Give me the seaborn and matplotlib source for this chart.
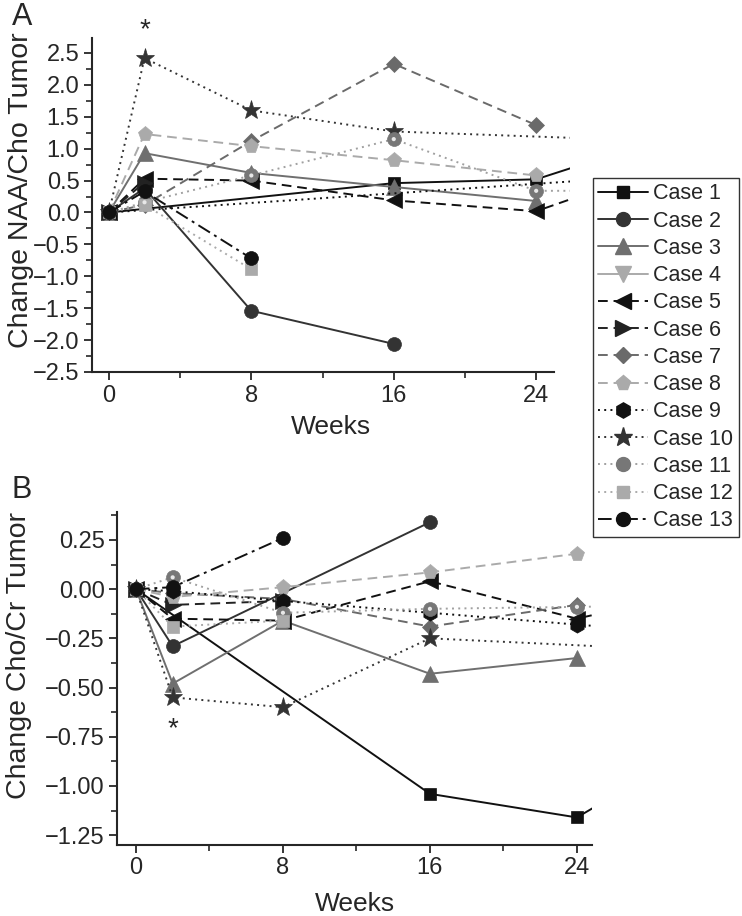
import numpy as np
import seaborn as sns
import matplotlib.pyplot as plt
from matplotlib.lines import Line2D
from matplotlib.ticker import MultipleLocator

sns.set_style('ticks')
plt.rcParams['font.family'] = ['Liberation Sans', 'DejaVu Sans']

nan = np.nan
weeks = [0, 2, 8, 16, 24, 32]

# panel A: change NAA/Cho tumor (week 32 values only show as lines running off the edge)
naa_cho = {
    'Case 1': [0, nan, nan, 0.46, 0.52, 1.24],
    'Case 2': [0, 0.38, -1.54, -2.06, nan, nan],
    'Case 3': [0, 0.93, 0.62, 0.40, 0.18, nan],
    'Case 4': [nan, nan, nan, nan, nan, nan],
    'Case 5': [0, 0.53, 0.50, 0.19, 0.02, 0.8],
    'Case 6': [0, 0.47, nan, nan, nan, nan],
    'Case 7': [0, 0.12, 1.12, 2.33, 1.37, nan],
    'Case 8': [0, 1.23, 1.04, 0.82, 0.58, nan],
    'Case 9': [0, nan, nan, nan, nan, 0.6],
    'Case 10': [0, 2.42, 1.60, 1.27, nan, 1.11],
    'Case 11': [0, 0.16, 0.58, 1.15, 0.34, 0.34],
    'Case 12': [0, 0.12, -0.89, nan, nan, nan],
    'Case 13': [0, 0.33, -0.72, nan, nan, nan],
}

# panel B: change Cho/Cr tumor
cho_cr = {
    'Case 1': [0, nan, nan, -1.04, -1.16, -0.72],
    'Case 2': [0, -0.29, nan, 0.34, nan, nan],
    'Case 3': [0, -0.48, -0.16, -0.43, -0.35, nan],
    'Case 4': [nan, nan, nan, nan, nan, nan],
    'Case 5': [0, -0.15, -0.16, 0.04, -0.15, 0.02],
    'Case 6': [0, -0.08, -0.06, nan, nan, nan],
    'Case 7': [0, -0.02, -0.05, -0.19, -0.08, nan],
    'Case 8': [0, -0.04, 0.01, 0.085, 0.18, nan],
    'Case 9': [0, -0.01, -0.06, -0.12, -0.18, -0.24],
    'Case 10': [0, -0.55, -0.60, -0.25, nan, -0.32],
    'Case 11': [0, 0.06, -0.12, -0.10, -0.09, -0.08],
    'Case 12': [0, -0.19, -0.16, nan, nan, nan],
    'Case 13': [0, 0.01, 0.26, nan, nan, nan],
}

dot = (0, (1, 2.2))
dash = (0, (5, 3))
dashdot = (0, (7, 2.5, 1.5, 2.5))
styles = {
    'Case 1': dict(color='#111111', marker='s', ms=9, ls='-'),
    'Case 2': dict(color='#333333', marker='o', ms=10, ls='-'),
    'Case 3': dict(color='#6f6f6f', marker='^', ms=11, ls='-'),
    'Case 4': dict(color='#aaaaaa', marker='v', ms=11, ls='-'),
    'Case 5': dict(color='#111111', marker='<', ms=11, ls=dash),
    'Case 6': dict(color='#222222', marker='>', ms=11, ls=dash),
    'Case 7': dict(color='#6a6a6a', marker='D', ms=8, ls=dash),
    'Case 8': dict(color='#aaaaaa', marker='p', ms=11, ls=dash),
    'Case 9': dict(color='#111111', marker='h', ms=11, ls=dot),
    'Case 10': dict(color='#333333', marker='*', ms=14, ls=dot),
    'Case 11': dict(color='#777777', marker='o', ms=10, ls=dot, line='#a0a0a0'),
    'Case 12': dict(color='#aaaaaa', marker='s', ms=9, ls=dot),
    'Case 13': dict(color='#111111', marker='o', ms=10, ls=dashdot),
}

fig = plt.figure(figsize=(7.42, 9.16), dpi=100)
axA = fig.add_axes([92 / 742, 1 - 372 / 916, (570 - 92) / 742, (372 - 38) / 916])
axB = fig.add_axes([117 / 742, 1 - 845 / 916, (592 - 117) / 742, (845 - 512) / 916])


def draw(ax, table):
    for name, vals in table.items():
        st = styles[name]
        if np.all(np.isnan(vals)):
            continue
        sns.lineplot(x=weeks, y=vals, ax=ax, color=st.get('line', st['color']),
                     linestyle=st['ls'], linewidth=1.4, marker=st['marker'],
                     markersize=st['ms'], markerfacecolor=st['color'],
                     markeredgecolor=st['color'], markeredgewidth=0.5)
        if name == 'Case 11':
            sns.scatterplot(x=weeks[1:], y=vals[1:], ax=ax, marker='o', s=9,
                            color='#e8e8e8', edgecolor='none', zorder=5)


draw(axA, naa_cho)
draw(axB, cho_cr)

for ax in (axA, axB):
    sns.despine(ax=ax)
    ax.spines['left'].set_linewidth(1.5)
    ax.spines['bottom'].set_linewidth(1.5)
    ax.set_xticks([0, 8, 16, 24])
    ax.xaxis.set_minor_locator(MultipleLocator(4))
    ax.tick_params(which='major', direction='out', length=6, width=1.3, labelsize=17, pad=3)
    ax.tick_params(which='minor', direction='out', length=4, width=1.2)

axA.set_xlim(-0.95, 25.9)
axA.spines['bottom'].set_bounds(-0.95, 25.0)
axA.set_ylim(-2.5, 2.735)
axA.set_yticks(np.arange(-2.5, 2.51, 0.5))
axA.yaxis.set_minor_locator(MultipleLocator(0.25))
axA.set_xlabel('Weeks', fontsize=19, labelpad=6)
axA.set_ylabel('Change NAA/Cho Tumor', fontsize=20.5)
axA.yaxis.set_label_coords(-0.122, 0.545)
axA.text(2, 2.86, '*', ha='center', va='center', fontsize=20, clip_on=False)

axB.set_xlim(-1.03, 24.82)
axB.set_ylim(-1.30, 0.392)
axB.set_yticks([-1.25, -1.0, -0.75, -0.5, -0.25, 0, 0.25])
axB.yaxis.set_minor_locator(MultipleLocator(0.125))
axB.set_xlabel('Weeks', fontsize=19, labelpad=9)
axB.set_ylabel('Change Cho/Cr Tumor', fontsize=20.5)
axB.yaxis.set_label_coords(-0.178, 0.568)
axB.text(2, -0.71, '*', ha='center', va='center', fontsize=20)

fig.text(12 / 742, 1 - 17 / 916, 'A', fontsize=22, va='center')
fig.text(12 / 742, 1 - 490 / 916, 'B', fontsize=22, va='center')

handles = [Line2D([], [], color=styles[n].get('line', styles[n]['color']), linestyle=styles[n]['ls'],
                  linewidth=1.4, marker=styles[n]['marker'], markersize=styles[n]['ms'],
                  markerfacecolor=styles[n]['color'], markeredgecolor=styles[n]['color'])
           for n in styles]
leg = fig.legend(handles, list(styles), loc='upper left', bbox_to_anchor=(593 / 742, 1 - 178 / 916),
                 frameon=True, fancybox=False, edgecolor='#333333', framealpha=1,
                 fontsize=15.5, handlelength=2.3, handletextpad=0.25, labelspacing=0.29,
                 borderpad=0.25, borderaxespad=0)
leg.get_frame().set_linewidth(1.0)

fig.savefig('out.png', dpi=100)
